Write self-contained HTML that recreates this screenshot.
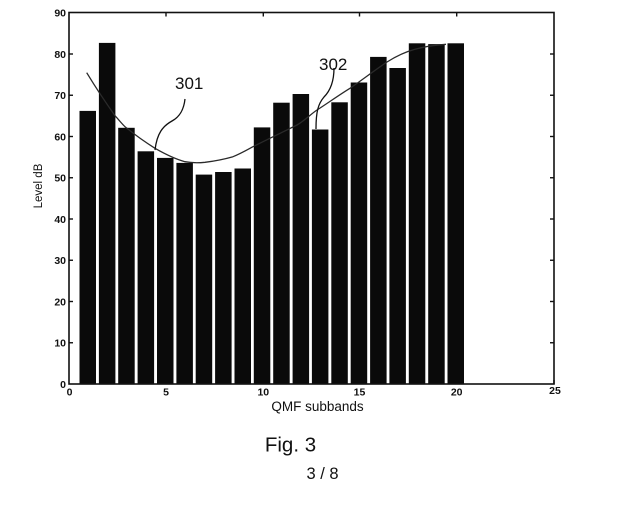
<!DOCTYPE html>
<html>
<head>
<meta charset="utf-8">
<style>
  html, body { margin:0; padding:0; background:#fff; }
  svg { display:block; }
  text { font-family: "Liberation Sans", Arial, sans-serif; fill:#111; }
  .tl { font-size:10.5px; font-weight:bold; }
</style>
</head>
<body>
<svg width="627" height="505" viewBox="0 0 627 505" xmlns="http://www.w3.org/2000/svg">
  <rect x="0" y="0" width="627" height="505" fill="#fff"/>

  <!-- bars -->
  <g fill="#0a0a0a">
    <rect x="79.5" y="110.9" width="16.5" height="273.1"/>
    <rect x="98.9" y="42.9" width="16.5" height="341.1"/>
    <rect x="118.2" y="127.8" width="16.5" height="256.2"/>
    <rect x="137.6" y="151.3" width="16.5" height="232.7"/>
    <rect x="157.0" y="157.9" width="16.5" height="226.1"/>
    <rect x="176.4" y="162.9" width="16.5" height="221.1"/>
    <rect x="195.7" y="174.6" width="16.5" height="209.4"/>
    <rect x="215.1" y="172.0" width="16.5" height="212.0"/>
    <rect x="234.5" y="168.5" width="16.5" height="215.5"/>
    <rect x="253.8" y="127.4" width="16.5" height="256.6"/>
    <rect x="273.2" y="102.7" width="16.5" height="281.3"/>
    <rect x="292.6" y="94.0" width="16.5" height="290.0"/>
    <rect x="311.9" y="129.5" width="16.5" height="254.5"/>
    <rect x="331.3" y="102.3" width="16.5" height="281.7"/>
    <rect x="350.7" y="82.5" width="16.5" height="301.5"/>
    <rect x="370.1" y="56.9" width="16.5" height="327.1"/>
    <rect x="389.4" y="68.0" width="16.5" height="316.0"/>
    <rect x="408.8" y="43.3" width="16.5" height="340.7"/>
    <rect x="428.2" y="44.1" width="16.5" height="339.9"/>
    <rect x="447.5" y="43.3" width="16.5" height="340.7"/>
  </g>

  <!-- fitted curve -->
  <path d="M86.7,72.7 C96,88 106,103 115,115.7 C119,120 122,124 125,126.7 C135,135 145,142 155,148.3 C165,154 175,159 185,161.7 C192,163 198,163 205,162.3 C215,161 225,159 233,156.7 C240,154 247,150 253,146.7 C268,139 283,132 297,125 C304,121 311,114 317,110 C328,103 339,95 350,88.3 C362,80 375,70 387,62 C395,57 405,52 415,49.3 C425,46.5 435,45 446,44.3"
        fill="none" stroke="#2a2a2a" stroke-width="1.3" stroke-linejoin="round"/>

  <!-- leader lines -->
  <path d="M185,99 C184,108 181,116 172,121 C163,126 157,133 155,150" fill="none" stroke="#111" stroke-width="1.3"/>
  <path d="M334,68 C334,80 331,90 324,97 C318,104 316,112 316,129" fill="none" stroke="#111" stroke-width="1.3"/>

  <text x="175" y="89" style="font-size:17px">301</text>
  <text x="319" y="70" style="font-size:17px">302</text>

  <!-- axes box -->
  <rect x="69" y="12.5" width="485" height="371.5" fill="none" stroke="#111" stroke-width="1.6"/>

  <!-- y ticks left & right -->
  <g stroke="#111" stroke-width="1.4">
    <line x1="69" y1="342.75" x2="73" y2="342.75"/>
    <line x1="69" y1="301.5" x2="73" y2="301.5"/>
    <line x1="69" y1="260.25" x2="73" y2="260.25"/>
    <line x1="69" y1="219" x2="73" y2="219"/>
    <line x1="69" y1="177.75" x2="73" y2="177.75"/>
    <line x1="69" y1="136.5" x2="73" y2="136.5"/>
    <line x1="69" y1="95.25" x2="73" y2="95.25"/>
    <line x1="69" y1="54" x2="73" y2="54"/>

    <line x1="550" y1="342.75" x2="554" y2="342.75"/>
    <line x1="550" y1="301.5" x2="554" y2="301.5"/>
    <line x1="550" y1="260.25" x2="554" y2="260.25"/>
    <line x1="550" y1="219" x2="554" y2="219"/>
    <line x1="550" y1="177.75" x2="554" y2="177.75"/>
    <line x1="550" y1="136.5" x2="554" y2="136.5"/>
    <line x1="550" y1="95.25" x2="554" y2="95.25"/>
    <line x1="550" y1="54" x2="554" y2="54"/>

    <!-- top ticks -->
    <line x1="166" y1="12.5" x2="166" y2="16.5"/>
    <line x1="263.3" y1="12.5" x2="263.3" y2="16.5"/>
    <line x1="359.5" y1="12.5" x2="359.5" y2="16.5"/>
    <line x1="456.7" y1="12.5" x2="456.7" y2="16.5"/>
    <!-- bottom tick at 25 region -->
    <line x1="554" y1="384" x2="554" y2="380"/>
  </g>

  <!-- y tick labels -->
  <g class="tl" text-anchor="end">
    <text x="66" y="388">0</text>
    <text x="66" y="346.5">10</text>
    <text x="66" y="305.3">20</text>
    <text x="66" y="264">30</text>
    <text x="66" y="222.8">40</text>
    <text x="66" y="181.5">50</text>
    <text x="66" y="140.3">60</text>
    <text x="66" y="99">70</text>
    <text x="66" y="57.8">80</text>
    <text x="66" y="16.5">90</text>
  </g>

  <!-- x tick labels -->
  <g class="tl" text-anchor="middle">
    <text x="69.5" y="395.5">0</text>
    <text x="166" y="395.5">5</text>
    <text x="263.3" y="395.5">10</text>
    <text x="359.5" y="395.5">15</text>
    <text x="456.7" y="395.5">20</text>
    <text x="555" y="394">25</text>
  </g>

  <!-- axis titles -->
  <text x="317.5" y="411" text-anchor="middle" style="font-size:13.5px">QMF subbands</text>
  <text transform="translate(42,186) rotate(-90)" text-anchor="middle" style="font-size:11.5px">Level dB</text>

  <!-- figure caption -->
  <text x="290.5" y="451.5" text-anchor="middle" style="font-size:20.5px">Fig. 3</text>
  <text x="322.5" y="479" text-anchor="middle" style="font-size:16.5px">3 / 8</text>
</svg>
</body>
</html>
